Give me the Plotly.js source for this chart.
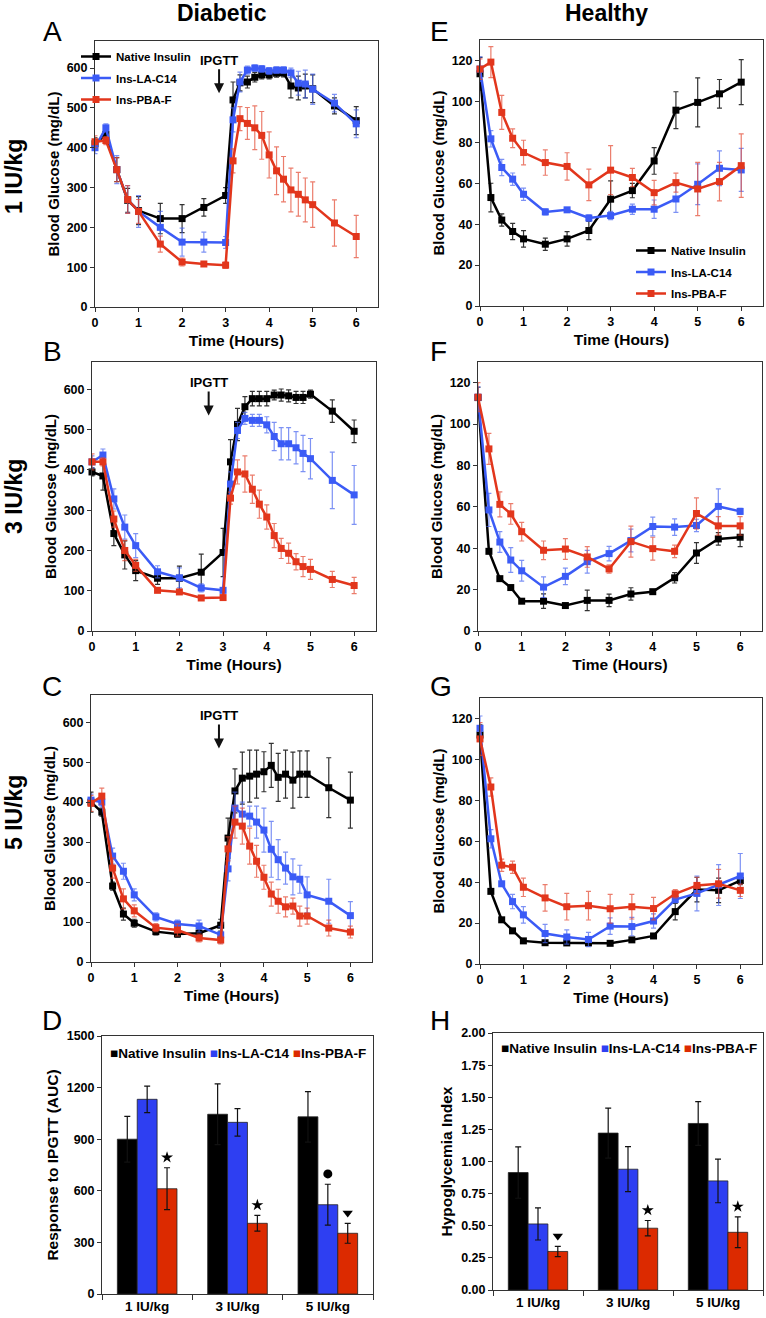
<!DOCTYPE html>
<html>
<head>
<meta charset="utf-8">
<script src="https://cdn.plot.ly/plotly-3.0.1.min.js"></script>
<style>
  html, body { margin: 0; padding: 0; background: #fff; }
  #chart { width: 766px; height: 1318px; }
</style>
</head>
<body>
<div id="chart"></div>
<script>
// === Data ===
// Diabetic time points (hours): every 10 min after the glucose challenge at 3 h
const tDiab = [0, 0.25, 0.5, 0.75, 1, 1.5, 2, 2.5, 3, 3.17, 3.33, 3.5, 3.67, 3.83, 4, 4.17, 4.33, 4.5, 4.67, 4.83, 5, 5.5, 6];
// Healthy time points (hours)
const tHealthy = [0, 0.25, 0.5, 0.75, 1, 1.5, 2, 2.5, 3, 3.5, 4, 4.5, 5, 5.5, 6];

// A: diabetic, 1 IU/kg
const aNative = [410, 433, 345, 268, 242, 222, 222, 250, 280, 520, 563, 565, 577, 583, 583, 587, 588, 555, 550, 555, 548, 505, 468];
const aNativeErr = [15, 15, 30, 30, 35, 38, 35, 22, 20, 45, 20, 15, 12, 10, 10, 10, 10, 30, 30, 30, 35, 20, 35];
const aLA = [400, 450, 345, 270, 240, 200, 163, 163, 162, 470, 565, 595, 600, 598, 593, 595, 595, 588, 562, 560, 547, 512, 460];
const aLAErr = [15, 10, 35, 35, 40, 40, 35, 25, 15, 30, 25, 10, 8, 8, 8, 8, 8, 12, 30, 35, 38, 22, 35];
const aPBA = [415, 418, 345, 270, 240, 158, 113, 108, 105, 367, 473, 461, 450, 431, 382, 342, 321, 294, 283, 269, 257, 211, 177];
const aPBAErr = [15, 10, 30, 35, 30, 20, 10, 5, 8, 30, 30, 40, 55, 60, 58, 60, 57, 55, 55, 55, 57, 58, 53];

// B: diabetic, 3 IU/kg
const bNative = [395, 385, 242, 189, 150, 131, 131, 146, 195, 420, 513, 557, 577, 577, 577, 586, 586, 584, 580, 580, 588, 546, 496];
const bNativeErr = [10, 35, 30, 35, 25, 15, 30, 45, 60, 55, 40, 25, 18, 18, 18, 12, 15, 15, 15, 15, 10, 28, 28];
const bLA = [420, 437, 328, 258, 212, 147, 132, 107, 101, 365, 498, 528, 523, 523, 512, 483, 465, 465, 455, 441, 428, 374, 338];
const bLAErr = [15, 15, 25, 30, 30, 15, 25, 10, 5, 30, 20, 15, 15, 15, 20, 35, 40, 40, 40, 45, 50, 70, 73];
const bPBA = [420, 420, 278, 200, 163, 101, 97, 82, 83, 330, 395, 390, 352, 315, 283, 237, 205, 193, 172, 160, 153, 128, 113];
const bPBAErr = [20, 10, 20, 25, 15, 5, 5, 5, 5, 15, 30, 45, 35, 35, 30, 30, 25, 25, 20, 25, 25, 20, 20];

// C: diabetic, 5 IU/kg
const cNative = [400, 375, 190, 120, 97, 76, 70, 72, 92, 310, 428, 460, 465, 470, 476, 492, 462, 470, 455, 470, 470, 436, 405];
const cNativeErr = [25, 10, 10, 15, 10, 8, 8, 10, 15, 50, 55, 65, 65, 60, 50, 55, 60, 60, 70, 58, 58, 75, 70];
const cLA = [405, 400, 265, 227, 168, 113, 95, 90, 68, 233, 385, 370, 365, 350, 330, 282, 256, 235, 213, 207, 168, 152, 116];
const cLAErr = [15, 10, 20, 20, 15, 10, 10, 15, 20, 30, 40, 30, 25, 40, 55, 70, 50, 40, 45, 35, 45, 55, 35];
const cPBA = [397, 415, 235, 158, 128, 86, 80, 60, 55, 283, 350, 340, 290, 252, 212, 170, 152, 138, 140, 115, 115, 85, 75];
const cPBAErr = [20, 20, 25, 25, 15, 10, 15, 10, 10, 30, 40, 45, 45, 40, 30, 30, 30, 25, 20, 25, 20, 20, 15];

// E: healthy, 1 IU/kg
const eNative = [113.5, 53, 42, 36.4, 32.8, 30.2, 32.8, 36.9, 52.2, 56.4, 70.9, 95.7, 99.5, 103.7, 109.4];
const eNativeErr = [8, 7, 3, 4, 4, 3, 3.5, 4.5, 9, 3.5, 6.5, 9, 12, 7, 11];
const eLA = [115.8, 81.7, 67.7, 62, 54.6, 46, 47, 43, 44.2, 47.3, 47.3, 52.3, 59.5, 67.3, 66.5];
const eLAErr = [6, 4, 4, 3, 3, 1.5, 1, 1.5, 2, 2.5, 4.5, 6.5, 10, 8.5, 10.5];
const ePBA = [115.8, 119.2, 94.6, 82, 75, 70.1, 68.2, 59.2, 66.4, 62.8, 55.4, 60.3, 57.2, 60.8, 68.6];
const ePBAErr = [5, 7.6, 8.3, 4.6, 6, 6.2, 6.7, 7.7, 12, 4.5, 6, 4.6, 13, 9.4, 15.5];

// F: healthy, 3 IU/kg
const fNative = [112.8, 38.5, 25.3, 21, 14.4, 14.4, 12.3, 14.8, 14.8, 17.9, 19, 25.7, 37.7, 44.5, 45.3];
const fNativeErr = [5, 1, 1, 1, 1, 3.5, 1, 5, 3, 3, 1, 2.5, 5, 3, 4.5];
const fLA = [113, 58.5, 43, 34.3, 29.1, 21.2, 26.4, 33.5, 37.4, 43.7, 50.5, 50.2, 51, 60.2, 57.8];
const fLAErr = [5, 8, 5, 6, 5, 5, 4, 5.5, 3.5, 5.5, 4.5, 4, 3, 8.5, 1.5];
const fPBA = [113, 88, 61.2, 56.6, 48, 39, 39.6, 35.8, 30, 43.2, 39.8, 38.5, 56.8, 50.8, 50.8];
const fPBAErr = [7, 7.5, 6, 5, 4.5, 4.5, 5, 5, 2, 7.5, 5.5, 3, 7.5, 4.5, 4.5];

// G: healthy, 5 IU/kg
const gNative = [111.9, 35.5, 21.6, 16.2, 11.3, 10.4, 10.3, 10.3, 10.1, 11.8, 13.7, 25.6, 36.4, 36, 40.8];
const gNativeErr = [5, 1, 1, 1, 1, 1, 1, 1, 1, 1, 1, 4, 6, 6, 2];
const gLA = [115.2, 61.2, 39.2, 30.5, 24, 14.9, 13.2, 12, 18.5, 18.3, 21, 31.5, 34.5, 38.6, 43];
const gLAErr = [6, 4.5, 1, 3.5, 4, 4.5, 3.5, 3.5, 4, 4.5, 3.5, 1.5, 8.5, 10, 11];
const gPBA = [110, 86.5, 48.3, 47.3, 37.5, 32.3, 28, 28.5, 27, 28, 27.1, 34.3, 38.4, 39.2, 36];
const gPBAErr = [8, 4.5, 3, 3, 4.5, 6.5, 6.5, 7, 7, 6, 5.5, 2, 4, 7, 3];

// D: response to IPGTT (AUC), H: hypoglycemia index
const doses = ['1 IU/kg', '3 IU/kg', '5 IU/kg'];
const dNative = [900, 1045, 1030];
const dNativeErr = [133, 177, 147];
const dLA = [1132, 998, 519];
const dLAErr = [77, 80, 119];
const dPBA = [612, 411, 353];
const dPBAErr = [122, 46, 58];
const hNative = [0.914, 1.221, 1.296];
const hNativeErr = [0.20, 0.195, 0.17];
const hLA = [0.514, 0.940, 0.849];
const hLAErr = [0.125, 0.175, 0.17];
const hPBA = [0.30, 0.481, 0.449];
const hPBAErr = [0.04, 0.06, 0.12];
// significance marks above bars (null = none)
const dSigLA = [null, null, 'circle'];
const dSigPBA = ['star', 'star', 'triangle-down'];
const hSigLA = [null, null, null];
const hSigPBA = ['triangle-down', 'star', 'star'];

const names = ['Native Insulin', 'Ins-LA-C14', 'Ins-PBA-F'];

// === Styling ===
const W = 766, H = 1318;
const FONT = 'Liberation Sans, Arial, Helvetica, sans-serif';
const LINE_COLORS = ['#000000', '#3b5bf6', '#e2361c'];
const ERR_COLORS = ['#333333', 'rgba(70,100,240,0.7)', 'rgba(226,70,45,0.7)'];
const BAR_COLORS = ['#000000', '#2e3ff2', '#dc2a00'];
const BARGAP = 0.34;
const barW = (1 - BARGAP) / 3;

// pixel boxes (left, top, right, bottom) of each panel
const boxes = {
    A: [95, 41, 378, 307], B: [92, 362, 376, 631], C: [91, 695, 372, 962], D: [102, 1036, 373, 1294],
    E: [480, 40, 763, 306], F: [478, 362, 762, 631], G: [480, 698, 762, 964], H: [493, 1033, 763, 1290]
};
const axisNum = { A: 1, B: 2, C: 3, D: 4, E: 5, F: 6, G: 7, H: 8 };
const axId = n => (n === 1 ? '' : String(n));

const tickFont = { family: FONT, size: 12.5, color: '#000', weight: 'bold' };
const titleFont = { family: FONT, size: 15, color: '#000', weight: 'bold' };
const legendFont = { family: FONT, size: 11.5, color: '#000', weight: 'bold' };

function lineTraces(panel, t, series, legendId) {
    const n = axId(axisNum[panel]);
    return series.map((s, i) => ({
        type: 'scatter',
        mode: 'lines+markers',
        x: t,
        y: s[0],
        name: names[i],
        xaxis: 'x' + n,
        yaxis: 'y' + n,
        line: { color: LINE_COLORS[i], width: 2.5 },
        marker: { symbol: 'square', size: 7, color: LINE_COLORS[i] },
        error_y: { type: 'data', array: s[1], visible: true, color: ERR_COLORS[i], thickness: 1.2, width: 2.5 },
        cliponaxis: false,
        showlegend: !!legendId,
        legend: legendId || 'legend',
        legendgroup: panel + i
    }));
}

function barTraces(panel, series) {
    const n = axId(axisNum[panel]);
    return series.map((s, i) => ({
        type: 'bar',
        x: doses.map((d, k) => k),
        y: s[0],
        name: names[i],
        xaxis: 'x' + n,
        yaxis: 'y' + n,
        marker: { color: BAR_COLORS[i], line: { color: '#222', width: 0.8 } },
        error_y: { type: 'data', array: s[1], visible: true, color: '#111', thickness: 1.2, width: 3 },
        showlegend: false
    }));
}

function sigTrace(panel, vals, errs, sigs, offset, yMax) {
    const n = axId(axisNum[panel]);
    const xs = [], ys = [], sym = [];
    sigs.forEach((s, k) => {
        if (!s) return;
        xs.push(k + offset);
        ys.push(vals[k] + errs[k] + yMax * 0.04);
        sym.push(s);
    });
    return {
        type: 'scatter', mode: 'markers', x: xs, y: ys,
        xaxis: 'x' + n, yaxis: 'y' + n,
        marker: { symbol: sym, size: 9, color: '#000' },
        showlegend: false, cliponaxis: false
    };
}

function frame(box, axis) {
    const [l, t, r, b] = box;
    const base = {
        showline: true, mirror: true, linecolor: '#333', linewidth: 1,
        ticks: 'outside', ticklen: 4, tickcolor: '#333', tickwidth: 1,
        showgrid: false, zeroline: false, fixedrange: true, tickfont: tickFont
    };
    if (axis === 'x') return Object.assign(base, { domain: [l / W, r / W] });
    return Object.assign(base, { domain: [1 - b / H, 1 - t / H] });
}

const traces = [
    ...lineTraces('A', tDiab, [[aNative, aNativeErr], [aLA, aLAErr], [aPBA, aPBAErr]], 'legend'),
    ...lineTraces('B', tDiab, [[bNative, bNativeErr], [bLA, bLAErr], [bPBA, bPBAErr]]),
    ...lineTraces('C', tDiab, [[cNative, cNativeErr], [cLA, cLAErr], [cPBA, cPBAErr]]),
    ...lineTraces('E', tHealthy, [[eNative, eNativeErr], [eLA, eLAErr], [ePBA, ePBAErr]], 'legend2'),
    ...lineTraces('F', tHealthy, [[fNative, fNativeErr], [fLA, fLAErr], [fPBA, fPBAErr]]),
    ...lineTraces('G', tHealthy, [[gNative, gNativeErr], [gLA, gLAErr], [gPBA, gPBAErr]]),
    ...barTraces('D', [[dNative, dNativeErr], [dLA, dLAErr], [dPBA, dPBAErr]]),
    ...barTraces('H', [[hNative, hNativeErr], [hLA, hLAErr], [hPBA, hPBAErr]]),
    sigTrace('D', dLA, dLAErr, dSigLA, 0, 1500),
    sigTrace('D', dPBA, dPBAErr, dSigPBA, barW, 1500),
    sigTrace('H', hLA, hLAErr, hSigLA, 0, 2),
    sigTrace('H', hPBA, hPBAErr, hSigPBA, barW, 2)
];

const layout = {
    width: W, height: H,
    margin: { l: 0, r: 0, t: 0, b: 0 },
    paper_bgcolor: '#fff', plot_bgcolor: '#fff',
    font: { family: FONT, color: '#000' },
    barmode: 'group', bargap: BARGAP, bargroupgap: 0,
    legend: {
        x: 76 / W, y: 1 - 42 / H, xanchor: 'left', yanchor: 'top',
        bgcolor: 'rgba(0,0,0,0)', tracegroupgap: 2.5, font: legendFont
    },
    legend2: {
        x: 631 / W, y: 1 - 236 / H, xanchor: 'left', yanchor: 'top',
        bgcolor: 'rgba(0,0,0,0)', tracegroupgap: 2.5, font: legendFont
    },
    annotations: [],
    showlegend: true
};

// line panels
['A', 'B', 'C', 'E', 'F', 'G'].forEach(p => {
    const n = axId(axisNum[p]);
    const healthy = 'EFG'.includes(p);
    layout['xaxis' + n] = Object.assign(frame(boxes[p], 'x'), {
        anchor: 'y' + n, range: [0, 6.5], tick0: 0, dtick: 1,
        title: { text: 'Time (Hours)', font: Object.assign({}, titleFont, { size: 15.5 }), standoff: 6 }
    });
    layout['yaxis' + n] = Object.assign(frame(boxes[p], 'y'), {
        anchor: 'x' + n, range: healthy ? [0, 130] : [0, 668], tick0: 0, dtick: healthy ? 20 : 100,
        title: { text: 'Blood Glucose (mg/dL)', font: titleFont, standoff: 3 }
    });
});

// bar panels
[['D', 1500, 300, 'Response to IPGTT (AUC)', ''], ['H', 2, 0.25, 'Hypoglycemia Index', '.2f']].forEach(([p, yMax, step, title, fmt]) => {
    const n = axId(axisNum[p]);
    layout['xaxis' + n] = Object.assign(frame(boxes[p], 'x'), {
        anchor: 'y' + n, range: [-0.5, 2.5],
        tickmode: 'array', tickvals: doses.map((d, k) => k), ticktext: doses, ticks: '',
        tickfont: Object.assign({}, tickFont, { size: 13.5 }),
        minor: { tickmode: 'array', tickvals: [-0.5, 0.5, 1.5, 2.5], ticks: 'outside', ticklen: 5, tickcolor: '#333' }
    });
    layout['yaxis' + n] = Object.assign(frame(boxes[p], 'y'), {
        anchor: 'x' + n, range: [0, yMax], tick0: 0, dtick: step, tickformat: fmt,
        title: { text: title, font: Object.assign({}, titleFont, { size: 15.5 }), standoff: 4 }
    });
});

function paperText(text, px, py, size, angle) {
    return {
        xref: 'paper', yref: 'paper', x: px / W, y: 1 - py / H, text: text,
        showarrow: false, textangle: angle || 0, xanchor: 'center', yanchor: 'middle',
        font: { family: FONT, size: size, color: '#000' }
    };
}

const ann = layout.annotations;
ann.push(paperText('<b>Diabetic</b>', 222, 13, 23));
ann.push(paperText('<b>Healthy</b>', 606, 13, 23));
[['A', 52, 32], ['B', 52, 352], ['C', 52, 686], ['D', 52, 1020],
 ['E', 439, 32], ['F', 438, 352], ['G', 441, 686], ['H', 440, 1020]].forEach(([l, x, y]) => {
    ann.push(paperText(l, x, y, 28));
});
[['1 IU/kg', 177], ['3 IU/kg', 497], ['5 IU/kg', 813]].forEach(([t, y]) => {
    ann.push(paperText('<b>' + t + '</b>', 14, y, 23, -90));
});

// IPGTT arrows
[['A', 2.85, 537], ['B', 2.67, 535], ['C', 2.96, 534]].forEach(([p, x, y]) => {
    const n = axId(axisNum[p]);
    ann.push({
        xref: 'x' + n, yref: 'y' + n, x: x, y: y, ax: 0, ay: -33,
        text: '<b>IPGTT</b>', showarrow: true, arrowhead: 2, arrowsize: 1, arrowwidth: 2, arrowcolor: '#111',
        font: { family: FONT, size: 13, color: '#000' }
    });
});

// bar legends
function barLegend() {
    return names.map((nm, i) =>
        '<span style="color:' + BAR_COLORS[i] + '">\u25A0</span>' + nm).join(' ');
}
ann.push(paperText('<b>' + barLegend() + '</b>', 238, 1053, 13.5));
ann.push(paperText('<b>' + barLegend() + '</b>', 629, 1048, 13.5));

Plotly.newPlot('chart', traces, layout, { staticPlot: true, displayModeBar: false });
</script>
</body>
</html>
